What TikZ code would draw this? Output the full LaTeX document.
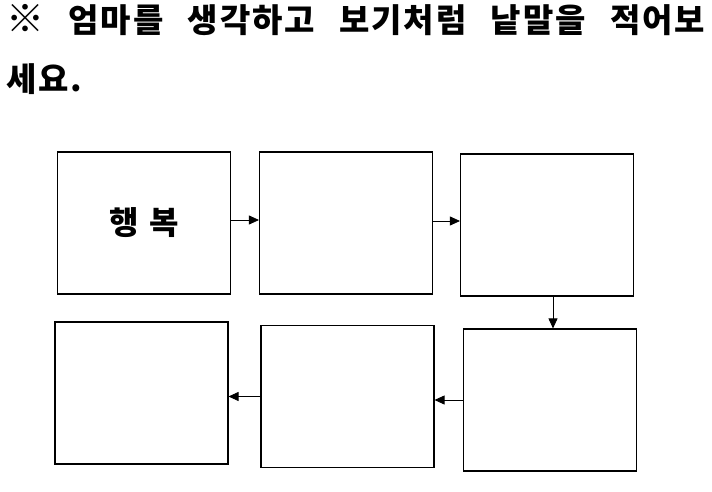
\documentclass[tikz,border=0pt]{standalone}
\usepackage{fontspec}
\setmainfont{Noto Sans CJK KR}
\newfontfamily\wide[LetterSpace=6]{Noto Sans CJK KR}
\usetikzlibrary{arrows.meta, positioning}

\begin{document}
\begin{tikzpicture}[
    x=1pt, y=-1pt,
    wordbox/.style={draw, line width=1.1pt, minimum width=173pt,
                    minimum height=142pt, inner sep=0pt},
    flow/.style={-{Triangle[length=10pt, width=9pt]}, line width=0.8pt},
    title/.style={font=\wide\fontsize{33}{38}\selectfont\bfseries, inner sep=0pt,
                  anchor=west}
  ]
  \useasboundingbox (0,0) rectangle (712,492);

  % Instruction
  \node[title] (line1) at (6,20)
    {\makebox[699pt][s]{{\fontsize{38}{38}\selectfont ※}\hfill 엄마를\hfill 생각하고\hfill 보기처럼\hfill 낱말을\hfill 적어보}};
  \node[title] (line2) at (6,79) {세요.};

  % First row
  \node[wordbox] (w1) at (144,223)
    {\fontsize{32}{36}\selectfont\bfseries 행\hspace{11pt}복};
  \node[wordbox] (w2) at (346,223) {};
  \node[wordbox] (w3) at (547,225) {};

  % Second row
  \node[wordbox] (w4) at (141.5,393) {};
  \node[wordbox] (w5) at (347.5,396.5) {};
  \node[wordbox] (w6) at (550,400) {};

  % Arrows
  \draw[flow] ([yshift=3pt]w1.east) -- ([yshift=3pt]w1.east -| w2.west);
  \draw[flow] ([yshift=2pt]w2.east) -- ([yshift=2pt]w2.east -| w3.west);
  \draw[flow] ([xshift=6pt]w3.south) -- ([xshift=6pt]w3.south |- w6.north);
  \draw[flow] (w6.west) -- (w6.west -| w5.east);
  \draw[flow] (w5.west) -- (w5.west -| w4.east);

\end{tikzpicture}
\end{document}
